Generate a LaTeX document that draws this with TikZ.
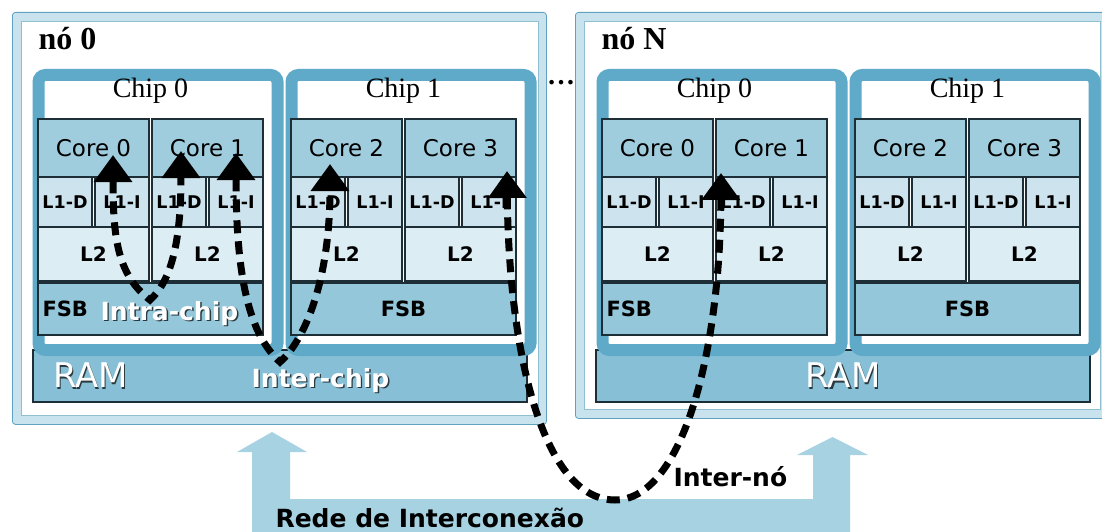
\documentclass[tikz,border=0pt]{standalone}
\usepackage{fontspec}
\setmainfont{Liberation Serif}
\setsansfont{DejaVu Sans}
\usepackage{color}
\usepackage{tikz}
\usetikzlibrary{arrows.meta,calc}

\definecolor{framefill}{HTML}{C9E3EE}
\definecolor{frameline}{HTML}{5FA3BE}
\definecolor{chipblue}{HTML}{5EAAC8}
\definecolor{corefill}{HTML}{A0CDDE}
\definecolor{lonefill}{HTML}{CDE4EE}
\definecolor{ltwofill}{HTML}{DCEDF4}
\definecolor{fsbfill}{HTML}{94C7DA}
\definecolor{ramfill}{HTML}{87C0D6}
\definecolor{netfill}{HTML}{A6D2E2}
\definecolor{celline}{HTML}{1E2E36}
\definecolor{shadow}{HTML}{2A3A40}

% white text with a dark drop shadow
\newcommand{\shtext}[1]{\makebox[0pt][l]{\kern1.4pt\raisebox{-1.4pt}{\color{shadow}#1}}#1}

\begin{document}
\begin{tikzpicture}[x=1pt,y=-1pt,>={Triangle[width=37pt,length=27pt]},
    frame/.style={draw=frameline,fill=framefill,line width=0.8pt,rounded corners=3pt,anchor=north west,inner sep=0pt},
    framein/.style={draw=frameline!70,fill=white,line width=0.6pt},
    chip/.style={draw=chipblue,fill=white,line width=12pt,rounded corners=7pt,anchor=north west,inner sep=0pt,
        minimum width=239pt,minimum height=275pt},
    chiplbl/.style={anchor=base,font=\fontsize{28}{28}\selectfont},
    cell/.style={draw=celline,line width=1.1pt,anchor=north west,inner sep=0pt,outer sep=0pt},
    core/.style={cell,fill=corefill,minimum width=111pt,minimum height=58pt,font=\sffamily\fontsize{23}{23}\selectfont},
    lone/.style={cell,fill=lonefill,minimum width=54pt,minimum height=50pt,font=\sffamily\bfseries\fontsize{17.5}{17.5}\selectfont},
    ltwo/.style={cell,fill=ltwofill,minimum width=111pt,minimum height=54pt,font=\sffamily\bfseries\fontsize{20}{20}\selectfont},
    fsb/.style={cell,fill=fsbfill,minimum width=225pt,minimum height=52pt,font=\sffamily\bfseries\fontsize{21}{21}\selectfont},
    fsbl/.style={fsb,text width=216pt,align=left},
    ram/.style={cell,fill=ramfill,minimum height=52pt,text=white,font=\sffamily\fontsize{34}{34}\selectfont},
    title/.style={anchor=base west,font=\bfseries\fontsize{32}{32}\selectfont},
    link/.style={<->,line width=7pt,dash pattern=on 13pt off 8pt},
    tag/.style={anchor=base west,font=\sffamily\bfseries\fontsize{25}{25}\selectfont}]

\useasboundingbox (0,0) rectangle (1102,532);

% interconnection network
\fill[netfill] (252,532) -- (252,452) -- (237,452) -- (272,432) -- (307,452) -- (290,452) -- (290,499)
    -- (813,499) -- (813,455) -- (797,455) -- (832.5,437) -- (868,455) -- (850,455) -- (850,532) -- cycle;
\node[tag] (net) at (272,527) {Rede de Interconexão};

% node 0
\node[frame,minimum width=534pt,minimum height=412pt] (n0) at (12,12) {};
\draw[framein] ($(n0.north west)+(9,9)$) rectangle ($(n0.south east)+(-9,-10)$);
\node[title] (n0lab) at (35,50) {nó 0};
\node[ram,minimum width=494pt,text width=454pt,align=left] (ram0) at (33,350) {\shtext{RAM}};

% node N
\node[frame,minimum width=533pt,minimum height=406pt] (nN) at (575,12) {};
\draw[framein] ($(nN.north west)+(9,9)$) rectangle ($(nN.south east)+(-9,-10)$);
\node[title] (nNlab) at (598,50) {nó N};
\node[ram,minimum width=494pt] (ramN) at (596,350) {\shtext{RAM}};

\node[anchor=base,font=\bfseries\fontsize{28}{28}\selectfont] (dots) at (561,85) {\dots};

% node 0, chip 0
\node[chip] (achip) at (32.5,69) {};
\node[chiplbl] (alab) at (150.5,98) {Chip 0};
\node[core] (a0) at (38,119) {Core 0};
\node[core] (a1) at (152,119) {Core 1};
\node[lone] (a0d) at (38,177) {L1-D};
\node[lone] (a0i) at (95,177) {L1-I};
\node[lone] (a1d) at (152,177) {L1-D};
\node[lone] (a1i) at (209,177) {L1-I};
\node[ltwo] (a0l) at (38,227) {L2};
\node[ltwo] (a1l) at (152,227) {L2};
\node[fsbl] (af) at (38,283) {FSB};

% node 0, chip 1
\node[chip] (bchip) at (285.5,69) {};
\node[chiplbl] (blab) at (403.5,98) {Chip 1};
\node[core] (b2) at (291,119) {Core 2};
\node[core] (b3) at (405,119) {Core 3};
\node[lone] (b2d) at (291,177) {L1-D};
\node[lone] (b2i) at (348,177) {L1-I};
\node[lone] (b3d) at (405,177) {L1-D};
\node[lone] (b3i) at (462,177) {L1-I};
\node[ltwo] (b2l) at (291,227) {L2};
\node[ltwo] (b3l) at (405,227) {L2};
\node[fsb] (bf) at (291,283) {FSB};

% node N, chip 0
\node[chip] (cchip) at (596.5,69) {};
\node[chiplbl] (clab) at (714.5,98) {Chip 0};
\node[core] (c0) at (602,119) {Core 0};
\node[core] (c1) at (716,119) {Core 1};
\node[lone] (c0d) at (602,177) {L1-D};
\node[lone] (c0i) at (659,177) {L1-I};
\node[lone] (c1d) at (716,177) {L1-D};
\node[lone] (c1i) at (773,177) {L1-I};
\node[ltwo] (c0l) at (602,227) {L2};
\node[ltwo] (c1l) at (716,227) {L2};
\node[fsbl] (cf) at (602,283) {FSB};

% node N, chip 1
\node[chip] (dchip) at (849.5,69) {};
\node[chiplbl] (dlab) at (967.5,98) {Chip 1};
\node[core] (d2) at (855,119) {Core 2};
\node[core] (d3) at (969,119) {Core 3};
\node[lone] (d2d) at (855,177) {L1-D};
\node[lone] (d2i) at (912,177) {L1-I};
\node[lone] (d3d) at (969,177) {L1-D};
\node[lone] (d3i) at (1026,177) {L1-I};
\node[ltwo] (d2l) at (855,227) {L2};
\node[ltwo] (d3l) at (969,227) {L2};
\node[fsb] (df) at (855,283) {FSB};

% communication paths
\coordinate (v1) at (150,300);
\coordinate (v2) at (280,362);
\coordinate (v3) at (615,500);

\draw[link] ($(a0.south)+(19.5,-22)$) .. controls (113,240) and (118,275) .. (v1)
    .. controls (172,280) and (181,240) .. ($(a1.south)+(-26.5,-26)$);
\draw[link] ($(a1.south)+(28.5,-24)$) .. controls (236,280) and (250,335) .. (v2)
    .. controls (305,340) and (330,280) .. ($(b2.south)+(-16.5,-13)$);
\draw[link] ($(b3.south)+(46.5,-6)$) .. controls (509,360) and (545,500) .. (v3)
    .. controls (680,500) and (720,360) .. ($(c1.south)+(-50.5,-4)$);

\node[tag,text=white] (intra) at (97,320) {\shtext{Intra-chip}};
\node[tag,text=white] (inter) at (248,387) {\shtext{Inter-chip}};
\node[tag] (internode) at (670,486) {Inter-nó};

\end{tikzpicture}
\end{document}
